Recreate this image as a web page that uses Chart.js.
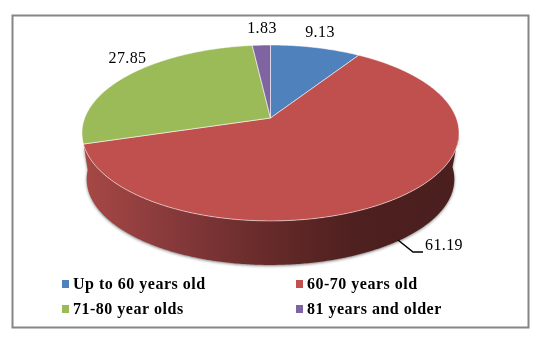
<!DOCTYPE html>
<html>
<head>
<meta charset="utf-8">
<script src="https://cdn.jsdelivr.net/npm/chart.js@4/dist/chart.umd.min.js"></script>
<style>
    html, body { margin: 0; padding: 0; background: #fff; }
    canvas { display: block; }
</style>
</head>
<body>
<canvas id="myChart" width="540" height="344"></canvas>
<script>
const categories = ["Up to 60 years old", "60-70 years old", "71-80 year olds", "81 years and older"];
const shares = [9.13, 61.19, 27.85, 1.83];
const sliceColors = ["#4f81bd", "#c0504d", "#9bbb59", "#8064a2"];

// tilted disc: apex is the chart centre, perspective pulls the near edge down
const stretchX = 2.545, stretchY = 1.17, tilt = 0.17;
const wallDepth = 46.6, wallShrink = 0.975;

function project(arc, a, shrink, drop) {
    const u = Math.cos(a), v = Math.sin(a);
    const w = 1 - tilt * v;
    const r = arc.outerRadius * shrink;
    return [arc.x + stretchX * r * u / w, arc.y + stretchY * r * v / w + drop];
}

function rimTo(ctx, arc, from, to, shrink, drop) {
    const steps = Math.max(2, Math.ceil(Math.abs(to - from) / 0.01));
    for (let i = 0; i <= steps; i++) {
        const p = project(arc, from + (to - from) * i / steps, shrink, drop);
        ctx.lineTo(p[0], p[1]);
    }
}

function drawWall(ctx, arc) {
    // only the big red slice reaches the front of the disc
    const from = 10 * Math.PI / 180;
    const grad = ctx.createLinearGradient(85, 0, 458, 0);
    grad.addColorStop(0, "#a64845");
    grad.addColorStop(0.25, "#85383a");
    grad.addColorStop(0.5, "#652a29");
    grad.addColorStop(0.72, "#4e201f");
    grad.addColorStop(1, "#4a1f1e");
    ctx.save();
    ctx.shadowColor = "rgba(0,0,0,0.5)";
    ctx.shadowBlur = 3;
    ctx.shadowOffsetY = 1;
    ctx.fillStyle = grad;
    ctx.beginPath();
    rimTo(ctx, arc, from, arc.endAngle, 1, 0);
    rimTo(ctx, arc, Math.PI * 0.98, 0.03, wallShrink, wallDepth);
    ctx.closePath();
    ctx.fill();
    ctx.restore();
}

const discPlugin = {
    id: "disc",
    beforeDatasetDraw(chart) {
        const ctx = chart.ctx;
        const arcs = chart.getDatasetMeta(0).data;
        drawWall(ctx, arcs[1]);
        arcs.forEach((arc, i) => {
            ctx.beginPath();
            ctx.moveTo(arc.x, arc.y);
            rimTo(ctx, arc, arc.startAngle, arc.endAngle, 1, 0);
            ctx.closePath();
            ctx.fillStyle = sliceColors[i];
            ctx.fill();
            ctx.strokeStyle = "rgba(255,255,255,0.55)";
            ctx.lineWidth = 1;
            ctx.stroke();
        });
        return false;
    },
    afterDraw(chart) {
        const ctx = chart.ctx;
        ctx.save();

        // frame
        ctx.strokeStyle = "#868686";
        ctx.lineWidth = 2;
        ctx.strokeRect(12.5, 15.5, 516, 312);

        // value labels, same order as shares
        const labelPos = [[320, 33], [444, 246], [127.5, 59], [262, 29]];
        ctx.font = "16px 'Liberation Serif'";
        ctx.letterSpacing = "0.4px";
        ctx.fillStyle = "#000";
        ctx.textAlign = "center";
        ctx.textBaseline = "middle";
        shares.forEach((v, i) => ctx.fillText(v.toFixed(2), labelPos[i][0], labelPos[i][1]));

        // leader line of the red slice
        ctx.strokeStyle = "#000";
        ctx.lineWidth = 1.5;
        ctx.beginPath();
        ctx.moveTo(398, 240);
        ctx.lineTo(413, 252);
        ctx.lineTo(423, 252);
        ctx.stroke();

        // legend, two columns
        const legendPos = [[62, 284], [296, 284], [62, 309], [296, 309]];
        ctx.font = "bold 16px 'Liberation Serif'";
        ctx.letterSpacing = "0.5px";
        ctx.textAlign = "left";
        categories.forEach((name, i) => {
            const p = legendPos[i];
            ctx.fillStyle = sliceColors[i];
            ctx.fillRect(p[0], p[1] - 4, 7, 8);
            ctx.fillStyle = "#000";
            ctx.fillText(name, p[0] + 11, p[1] + 1);
        });
        ctx.restore();
    }
};

new Chart(document.getElementById("myChart").getContext("2d"), {
    type: "pie",
    data: {
        labels: categories,
        datasets: [{
            data: shares,
            backgroundColor: sliceColors,
            borderWidth: 0
        }]
    },
    options: {
        responsive: false,
        animation: false,
        layout: { padding: { left: 197.5, right: 196.5, top: 45, bottom: 153 } },
        plugins: {
            legend: { display: false },
            tooltip: { enabled: false }
        }
    },
    plugins: [discPlugin]
});
</script>
</body>
</html>
